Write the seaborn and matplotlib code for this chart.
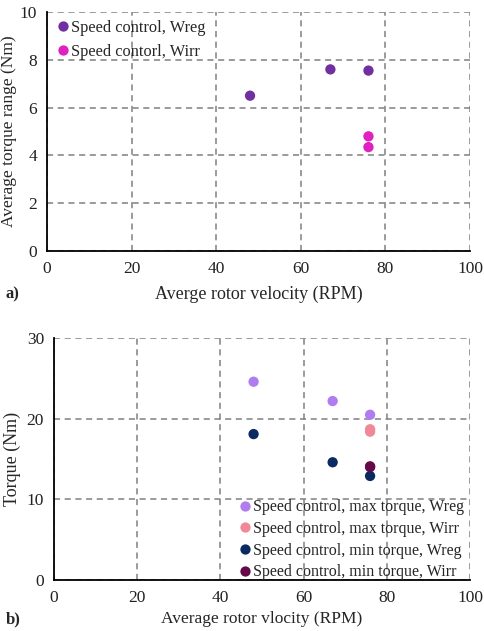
import matplotlib
matplotlib.use("Agg")
import matplotlib.pyplot as plt
import seaborn as sns
import pandas as pd

# Panel a data
a_wreg_x = [48, 67, 76]
a_wreg_y = [6.5, 7.6, 7.55]
a_wirr_x = [76, 76]
a_wirr_y = [4.8, 4.35]

# Panel b data
b_max_wreg_x = [48, 67, 76]
b_max_wreg_y = [24.6, 22.2, 20.5]
b_max_wirr_x = [76, 76]
b_max_wirr_y = [18.7, 18.4]
b_min_wreg_x = [48, 67, 76]
b_min_wreg_y = [18.1, 14.6, 12.9]
b_min_wirr_x = [76, 76]
b_min_wirr_y = [14.0, 14.1]

a_labels = ["Speed control, Wreg", "Speed contorl, Wirr"]
b_labels = ["Speed control, max torque, Wreg", "Speed control, max torque, Wirr",
            "Speed control, min torque, Wreg", "Speed control, min torque, Wirr"]
a_colors = ["#7030A0", "#E020C0"]
b_colors = ["#B07CF0", "#F08898", "#0C2A62", "#650A48"]

sns.set_style("white")
plt.rcParams['font.family'] = ['Liberation Serif', 'DejaVu Serif']

df_a = pd.DataFrame({
    "x": a_wreg_x + a_wirr_x,
    "y": a_wreg_y + a_wirr_y,
    "s": [a_labels[0]] * len(a_wreg_x) + [a_labels[1]] * len(a_wirr_x),
})
df_b = pd.DataFrame({
    "x": b_max_wreg_x + b_max_wirr_x + b_min_wreg_x + b_min_wirr_x,
    "y": b_max_wreg_y + b_max_wirr_y + b_min_wreg_y + b_min_wirr_y,
    "s": [b_labels[0]] * 3 + [b_labels[1]] * 2 + [b_labels[2]] * 3 + [b_labels[3]] * 2,
})

fig = plt.figure(figsize=(4.85, 6.31), dpi=100)
ax1 = fig.add_axes([0.097, 0.602, 0.872, 0.379])
ax2 = fig.add_axes([0.111, 0.081, 0.858, 0.383])

def style(ax, ymax, ystep):
    ax.set_xlim(0, 100)
    ax.set_ylim(0, ymax)
    ax.set_xticks(range(0, 101, 20))
    ax.set_yticks(range(0, ymax + 1, ystep))
    ax.grid(True, linestyle=(0, (4, 3)), color="#808080", linewidth=1.1)
    ax.set_axisbelow(True)
    for s in ["top", "right"]:
        ax.spines[s].set_visible(False)
    for s in ["left", "bottom"]:
        ax.spines[s].set_color("black")
        ax.spines[s].set_linewidth(1.3)
    ax.tick_params(axis="both", labelsize=12.5, length=0, pad=7, colors="#222222")

MS = 55

sns.scatterplot(data=df_a, x="x", y="y", hue="s", palette=a_colors, s=MS,
                edgecolor="none", ax=ax1, zorder=3)
style(ax1, 10, 2)
ax1.set_xlabel("Averge rotor velocity (RPM)", fontsize=13, labelpad=6)
ax1.set_ylabel("Average torque range (Nm)", fontsize=12.5, labelpad=2)
ax1.legend(loc="upper left", bbox_to_anchor=(0.0, 1.0), frameon=False, fontsize=11.8,
           handletextpad=0.05, handlelength=0.9, borderaxespad=0.1,
           labelspacing=0.45, markerscale=1.0)
fig.text(0.012, 0.527, "a)", fontsize=12, fontweight="bold")

sns.scatterplot(data=df_b, x="x", y="y", hue="s", palette=b_colors, s=MS,
                edgecolor="none", ax=ax2, zorder=3)
style(ax2, 30, 10)
ax2.set_xlabel("Average rotor vlocity (RPM)", fontsize=12.5, labelpad=4)
ax2.set_ylabel("Torque (Nm)", fontsize=13, labelpad=4)
ax2.legend(loc="lower right", bbox_to_anchor=(1.0, -0.028), frameon=False, fontsize=11.5,
           handletextpad=0.05, handlelength=0.9, borderaxespad=0.0,
           labelspacing=0.35, markerscale=1.0)
fig.text(0.012, 0.012, "b)", fontsize=12, fontweight="bold")

fig.savefig("out.png", dpi=100)
